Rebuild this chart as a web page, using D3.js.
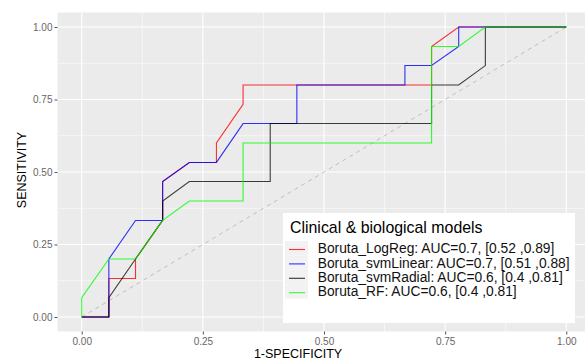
<!DOCTYPE html>
<html>
<head>
<meta charset="utf-8">
<script src="https://cdn.jsdelivr.net/npm/d3@7"></script>
<style>
  body { margin: 0; background: #fff; }
  svg { display: block; font-family: "Liberation Sans", Arial, sans-serif; }
</style>
</head>
<body>
<div id="chart"></div>
<script>
// ROC curves, 1-specificity (x) vs sensitivity (y)
const modelNames = ["Boruta_LogReg", "Boruta_svmLinear", "Boruta_svmRadial", "Boruta_RF"];
const modelLabels = [
  "Boruta_LogReg: AUC=0.7, [0.52 ,0.89]",
  "Boruta_svmLinear: AUC=0.7, [0.51 ,0.88]",
  "Boruta_svmRadial: AUC=0.6, [0.4 ,0.81]",
  "Boruta_RF: AUC=0.6, [0.4 ,0.81]"
];
const modelColors = ["#ff0000", "#0000ff", "#000000", "#00ff00"];

const logRegFpr = [0, .056, .056, .111, .111, .167, .167, .222, .278, .278, .333, .333, .722, .722, .778, 1];
const logRegTpr = [0, 0, .133, .133, .2, .333, .467, .533, .533, .6, .733, .8, .8, .933, 1, 1];

const svmLinearFpr = [0, .056, .056, .111, .167, .167, .222, .278, .333, .444, .444, .667, .667, .722, .778, .778, 1];
const svmLinearTpr = [0, 0, .2, .333, .333, .467, .533, .533, .667, .667, .8, .8, .867, .867, .933, 1, 1];

const svmRadialFpr = [0, .056, .056, .111, .167, .167, .222, .389, .389, .722, .722, .778, .833, .833, 1];
const svmRadialTpr = [0, 0, .067, .2, .333, .4, .467, .467, .667, .667, .8, .8, .867, 1, 1];

const rfFpr = [0, 0, .056, .111, .167, .222, .333, .333, .722, .722, .778, .833, 1];
const rfTpr = [0, .067, .2, .2, .333, .4, .4, .6, .6, .933, .933, 1, 1];

const majorTicks = [0, 0.25, 0.5, 0.75, 1];
const minorTicks = [0.125, 0.375, 0.625, 0.875];

const width = 585, height = 361;
const panel = {left: 57.5, right: 590.5, top: 12.5, bottom: 331.5};

const svg = d3.select("#chart").append("svg")
  .attr("width", width)
  .attr("height", height);

const x = d3.scaleLinear().domain([-0.05, 1.05]).range([panel.left, panel.right]);
const y = d3.scaleLinear().domain([-0.05, 1.05]).range([panel.bottom, panel.top]);

// panel background
svg.append("rect")
  .attr("x", panel.left).attr("y", panel.top)
  .attr("width", panel.right - panel.left).attr("height", panel.bottom - panel.top)
  .attr("fill", "#ebebeb");

// grid
const grid = svg.append("g");
minorTicks.forEach(t => {
  grid.append("line").attr("x1", x(t)).attr("x2", x(t)).attr("y1", panel.top).attr("y2", panel.bottom)
    .attr("stroke", "#fff").attr("stroke-width", 0.55);
  grid.append("line").attr("y1", y(t)).attr("y2", y(t)).attr("x1", panel.left).attr("x2", panel.right)
    .attr("stroke", "#fff").attr("stroke-width", 0.55);
});
majorTicks.forEach(t => {
  grid.append("line").attr("x1", x(t)).attr("x2", x(t)).attr("y1", panel.top).attr("y2", panel.bottom)
    .attr("stroke", "#fff").attr("stroke-width", 1.1);
  grid.append("line").attr("y1", y(t)).attr("y2", y(t)).attr("x1", panel.left).attr("x2", panel.right)
    .attr("stroke", "#fff").attr("stroke-width", 1.1);
});

// chance line
svg.append("line")
  .attr("x1", x(0)).attr("y1", y(0)).attr("x2", x(1)).attr("y2", y(1))
  .attr("stroke", "#bebebe").attr("stroke-width", 1)
  .attr("stroke-dasharray", "4,4");

// curves
const curves = [
  d3.zip(logRegFpr, logRegTpr),
  d3.zip(svmLinearFpr, svmLinearTpr),
  d3.zip(svmRadialFpr, svmRadialTpr),
  d3.zip(rfFpr, rfTpr)
];
const line = d3.line().x(d => x(d[0])).y(d => y(d[1]));
curves.forEach((pts, i) => {
  svg.append("path")
    .datum(pts)
    .attr("d", line)
    .attr("fill", "none")
    .attr("stroke", modelColors[i])
    .attr("stroke-width", 1.1)
    .attr("stroke-opacity", i == 2 ? 0.75 : 0.8)
    .attr("data-model", modelNames[i]);
});

// axes
const fmt = d3.format(".2f");
const yAxis = svg.append("g")
  .attr("transform", "translate(" + panel.left + ",0)")
  .call(d3.axisLeft(y).tickValues(majorTicks).tickFormat(fmt).tickSize(3).tickPadding(2));
const xAxis = svg.append("g")
  .attr("transform", "translate(0," + panel.bottom + ")")
  .call(d3.axisBottom(x).tickValues(majorTicks).tickFormat(fmt).tickSize(3).tickPadding(3));
[xAxis, yAxis].forEach(a => {
  a.select(".domain").remove();
  a.selectAll(".tick line").attr("stroke", "#555");
  a.selectAll(".tick text").attr("fill", "#666").style("font-size", "10px")
    .style("font-family", "'Liberation Sans', Arial, sans-serif");
});

// axis titles
svg.append("text")
  .attr("x", 298).attr("y", 358)
  .attr("text-anchor", "middle")
  .style("font-size", "12.5px")
  .text("1-SPECIFICITY");
svg.append("text")
  .attr("transform", "translate(26,170) rotate(-90)")
  .attr("text-anchor", "middle")
  .style("font-size", "12.5px")
  .text("SENSITIVITY");

// legend
const legend = svg.append("g").attr("transform", "translate(283,213)");
legend.append("rect")
  .attr("width", 292).attr("height", 110)
  .attr("fill", "#fff");
legend.append("text")
  .attr("x", 7).attr("y", 20)
  .style("font-size", "15.9px")
  .text("Clinical & biological models");
modelLabels.forEach((lab, i) => {
  const row = legend.append("g").attr("transform", "translate(0," + (28 + i * 14.4) + ")");
  row.append("rect")
    .attr("x", 2).attr("y", 0).attr("width", 23).attr("height", 14.4)
    .attr("fill", "#f2f2f2");
  row.append("line")
    .attr("x1", 6).attr("x2", 22).attr("y1", 8.5).attr("y2", 8.5)
    .attr("stroke", modelColors[i]).attr("stroke-width", 1.1).attr("stroke-opacity", 0.8);
  row.append("text")
    .attr("x", 34.7).attr("y", 12.3)
    .style("font-size", "13.8px")
    .attr("fill", "#111")
    .text(lab);
});
</script>
</body>
</html>
